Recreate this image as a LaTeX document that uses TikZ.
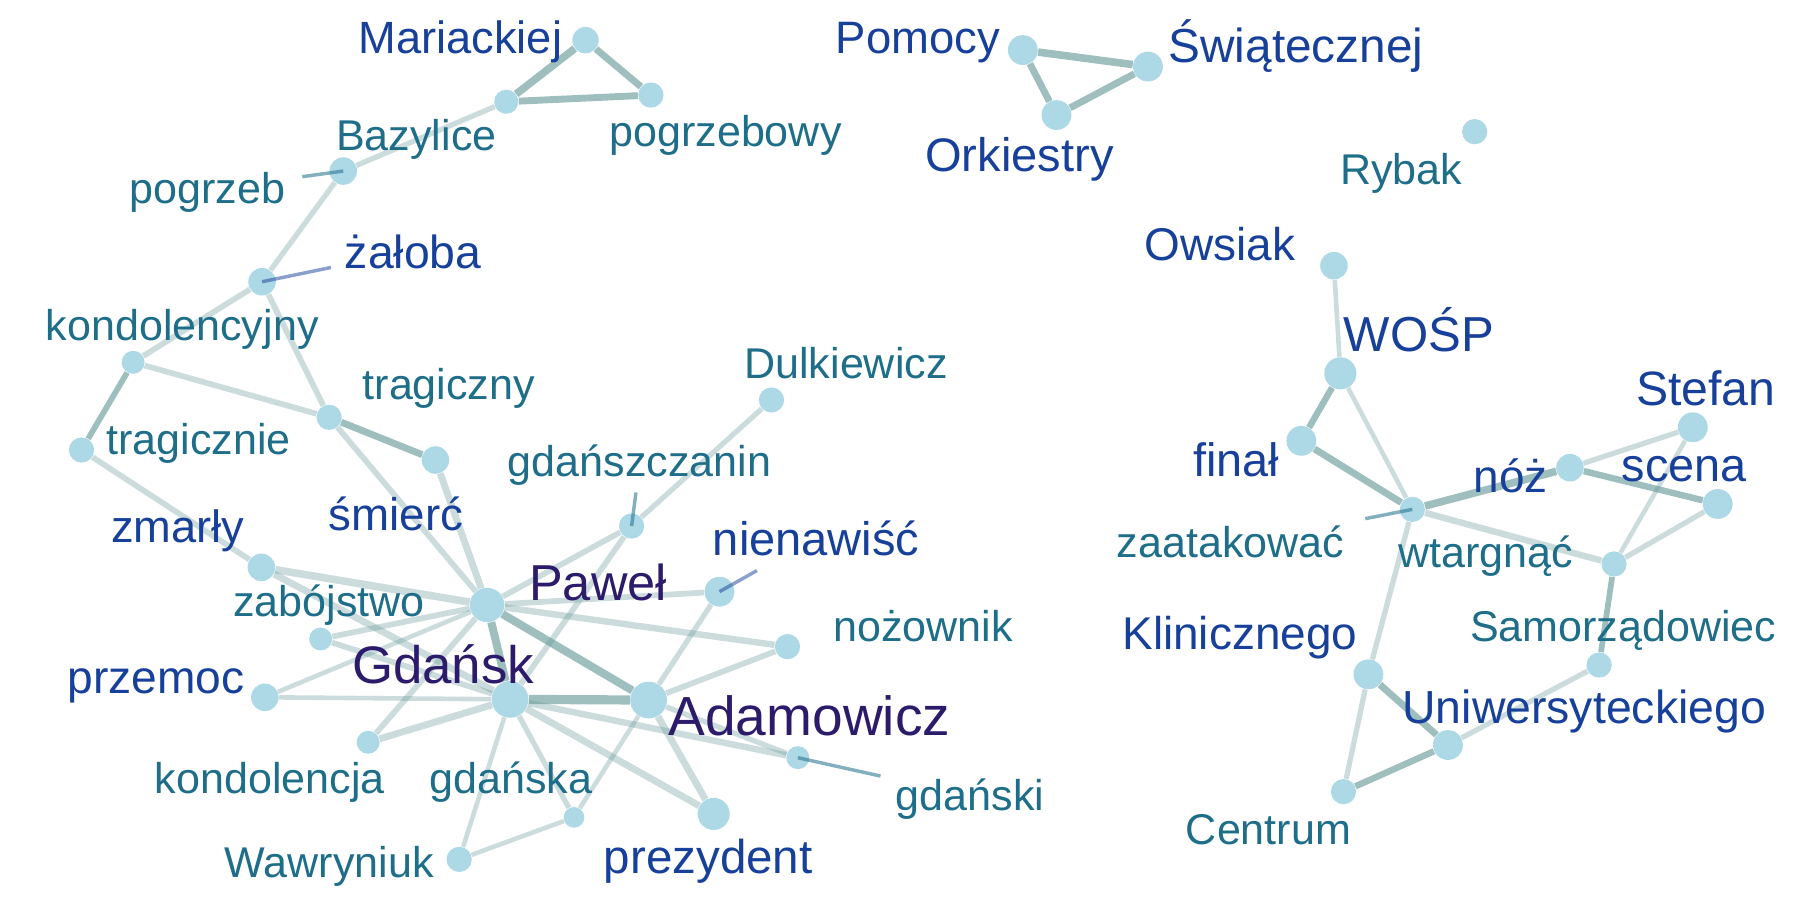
\documentclass[tikz,border=0pt]{standalone}
\usepackage{fontspec}
\setmainfont{Liberation Sans}
\definecolor{nodefill}{RGB}{173,216,230}
\definecolor{edgecol}{RGB}{100,150,150}
\definecolor{cpurple}{RGB}{44,26,107}
\definecolor{cblue}{RGB}{23,64,154}
\definecolor{cteal}{RGB}{30,110,138}
\pgfdeclarelayer{bg}
\pgfsetlayers{bg,main}
\tikzset{
  dot/.style={circle, fill=nodefill, draw=none, inner sep=0pt, minimum size=#1pt},
  lab/.style={anchor=base, inner sep=0pt, font=\fontsize{#1pt}{#1pt}\selectfont},
  tl/.style={lab=18.75, text=cteal},
  bl/.style={lab=#1, text=cblue},
  pl/.style={lab=#1, text=cpurple},
  lite/.style={draw=edgecol, draw opacity=0.33, line width=#1pt},
  dark/.style={draw=edgecol, draw opacity=0.62, line width=#1pt},
  ptrteal/.style={draw=cteal, draw opacity=0.55, line width=1.5pt},
  ptrblue/.style={draw=cblue, draw opacity=0.5, line width=1.5pt},
}
\begin{document}
\begin{tikzpicture}[x=0.5pt, y=-0.5pt]
\useasboundingbox (0,0) rectangle (1568,784);
% ---- vertices ----
\node[dot=11.5] (mar) at (510,35) {};
\node[dot=10.5] (baz) at (441,88.6) {};
\node[dot=11] (pgb) at (567,82.8) {};
\node[dot=12] (pog) at (299,149) {};
\node[dot=12] (zal) at (228.3,245.4) {};
\node[dot=10] (kcy) at (116,315.6) {};
\node[dot=11] (tny) at (286.7,363.5) {};
\node[dot=11] (tne) at (71,392) {};
\node[dot=12] (smi) at (379.3,400.7) {};
\node[dot=12] (zma) at (227.7,494.2) {};
\node[dot=15] (paw) at (424.3,527) {};
\node[dot=10] (zab) at (279.3,556.6) {};
\node[dot=12] (prz) at (230.7,607.4) {};
\node[dot=16] (gda) at (444.3,609.2) {};
\node[dot=10] (kja) at (320.7,646.6) {};
\node[dot=9] (gka) at (500,712) {};
\node[dot=11] (waw) at (400,748.6) {};
\node[dot=11] (gsz) at (550.2,458.2) {};
\node[dot=11] (dul) at (672,348.4) {};
\node[dot=13] (nie) at (626.7,515.4) {};
\node[dot=11] (noz) at (686,563.3) {};
\node[dot=16] (ada) at (565,609.8) {};
\node[dot=10] (gki) at (695,660) {};
\node[dot=14] (pre) at (621.7,709) {};
\node[dot=13] (pom) at (891,43.6) {};
\node[dot=13] (swi) at (1000,58) {};
\node[dot=13] (ork) at (920.3,100.2) {};
\node[dot=11] (ryb) at (1284.6,114.7) {};
\node[dot=12] (ows) at (1162,231.4) {};
\node[dot=14] (wos) at (1167.6,325.2) {};
\node[dot=13] (fin) at (1133.6,384) {};
\node[dot=11] (zaa) at (1230.3,443.7) {};
\node[dot=12] (nzz) at (1367.6,407.4) {};
\node[dot=13] (ste) at (1474.6,372.2) {};
\node[dot=13] (sce) at (1496.3,439) {};
\node[dot=11] (wta) at (1406,491.3) {};
\node[dot=11] (sam) at (1393,579.3) {};
\node[dot=13] (uni) at (1261.3,649) {};
\node[dot=13] (kli) at (1192,587.4) {};
\node[dot=11] (cen) at (1170.3,689.6) {};
% ---- edges ----
\begin{pgfonlayer}{bg}
\draw[dark=3.3] (mar) -- (baz);
\draw[dark=3] (mar) -- (pgb);
\draw[dark=3] (baz) -- (pgb);
\draw[lite=2.3] (baz) -- (pog);
\draw[lite=2.3] (pog) -- (zal);
\draw[lite=2.5] (zal) -- (kcy);
\draw[lite=2.5] (zal) -- (tny);
\draw[dark=2.5] (kcy) -- (tne);
\draw[lite=2.5] (kcy) -- (tny);
\draw[dark=3] (tny) -- (smi);
\draw[lite=2.5] (tny) -- (paw);
\draw[lite=3] (smi) -- (paw);
\draw[lite=2.5] (tne) -- (zma);
\draw[lite=3.3] (zma) -- (paw);
\draw[lite=3] (zma) -- (gda);
\draw[lite=2.5] (zab) -- (paw);
\draw[lite=2.5] (zab) -- (gda);
\draw[lite=2] (prz) -- (paw);
\draw[lite=2] (prz) -- (gda);
\draw[lite=2.5] (kja) -- (paw);
\draw[lite=3] (kja) -- (gda);
\draw[dark=3.5] (paw) -- (gda);
\draw[dark=3.5] (paw) -- (ada);
\draw[dark=4] (gda) -- (ada);
\draw[lite=2.5] (paw) -- (gsz);
\draw[lite=2.5] (gda) -- (gsz);
\draw[lite=2.3] (gsz) -- (dul);
\draw[lite=2.5] (paw) -- (nie);
\draw[lite=2.8] (paw) -- (noz);
\draw[lite=2.3] (ada) -- (nie);
\draw[lite=2.5] (ada) -- (noz);
\draw[lite=2.8] (gda) -- (gki);
\draw[lite=2.3] (ada) -- (gki);
\draw[lite=3] (gda) -- (pre);
\draw[lite=3] (ada) -- (pre);
\draw[lite=2.3] (gda) -- (gka);
\draw[lite=2] (gda) -- (waw);
\draw[lite=2] (gka) -- (waw);
\draw[lite=2] (gka) -- (ada);
\draw[dark=3.3] (pom) -- (swi);
\draw[dark=3] (pom) -- (ork);
\draw[dark=3] (ork) -- (swi);
\draw[lite=2] (ows) -- (wos);
\draw[dark=2.8] (wos) -- (fin);
\draw[lite=2] (wos) -- (zaa);
\draw[dark=3] (fin) -- (zaa);
\draw[dark=3.3] (zaa) -- (nzz);
\draw[lite=2.8] (zaa) -- (wta);
\draw[lite=2.3] (zaa) -- (kli);
\draw[lite=2.3] (nzz) -- (ste);
\draw[dark=2.8] (nzz) -- (sce);
\draw[lite=2] (ste) -- (wta);
\draw[lite=2.3] (sce) -- (wta);
\draw[dark=2.5] (wta) -- (sam);
\draw[lite=2.3] (sam) -- (uni);
\draw[dark=3] (kli) -- (uni);
\draw[lite=2.3] (kli) -- (cen);
\draw[dark=2.8] (uni) -- (cen);
\end{pgfonlayer}
% ---- label pointers ----
\coordinate (p-pog) at (263.3,153.9);
\coordinate (p-zal) at (288.3,233);
\coordinate (p-gsz) at (554,429);
\coordinate (p-nie) at (659.4,497);
\coordinate (p-gki) at (767,676);
\coordinate (p-zaa) at (1189.3,451.8);
\draw[ptrteal] (p-pog) -- (pog.center);
\draw[ptrblue] (p-zal) -- (zal.center);
\draw[ptrteal] (p-gsz) -- (gsz.center);
\draw[ptrblue] (p-nie) -- (nie.center);
\draw[ptrteal] (p-gki) -- (gki.center);
\draw[ptrteal] (p-zaa) -- (zaa.center);
% ---- labels ----
\node[bl=19.7] (l-mar) at (401,46.5) {Mariackiej};
\node[tl] (l-baz) at (362.7,130.7) {Bazylice};
\node[tl] (l-pgb) at (632,127.8) {pogrzebowy};
\node[tl] (l-pog) at (180.5,177) {pogrzeb};
\node[bl=20.2] (l-zal) at (360,233.7) {żałoba};
\node[tl] (l-kcy) at (158.7,296.7) {kondolencyjny};
\node[tl] (l-tny) at (391,348.4) {tragiczny};
\node[tl] (l-tne) at (173,396) {tragicznie};
\node[bl=19.9] (l-smi) at (345,461.7) {śmierć};
\node[bl=19.7] (l-zma) at (155,472.7) {zmarły};
\node[tl] (l-zab) at (286.7,537.2) {zabójstwo};
\node[bl=20.1] (l-prz) at (136,604) {przemoc};
\node[pl=23] (l-gda) at (386,595.3) {Gdańsk};
\node[tl] (l-kja) at (235,691) {kondolencja};
\node[tl] (l-gka) at (445,691) {gdańska};
\node[tl] (l-waw) at (286.7,764.5) {Wawryniuk};
\node[pl=22] (l-paw) at (521,523) {Paweł};
\node[tl] (l-gsz) at (557,415.2) {gdańszczanin};
\node[tl] (l-dul) at (737,329.6) {Dulkiewicz};
\node[bl=20.5] (l-nie) at (711,483.5) {nienawiść};
\node[tl] (l-noz) at (804,559) {nożownik};
\node[pl=24] (l-ada) at (705,641) {Adamowicz};
\node[tl] (l-gki) at (845,706) {gdański};
\node[bl=20.7] (l-pre) at (617,760.7) {prezydent};
\node[bl=19.8] (l-pom) at (799.5,47) {Pomocy};
\node[bl=20.5] (l-ork) at (888,149.5) {Orkiestry};
\node[bl=20.8] (l-swi) at (1129,54.3) {Świątecznej};
\node[tl] (l-ryb) at (1220.5,161) {Rybak};
\node[bl=20] (l-ows) at (1062.5,226.5) {Owsiak};
\node[bl=21.4] (l-wos) at (1236,306) {WOŚP};
\node[bl=21] (l-ste) at (1486,352.8) {Stefan};
\node[bl=20.4] (l-fin) at (1077,415) {finał};
\node[bl=20] (l-nzz) at (1316,429) {nóż};
\node[bl=20.4] (l-sce) at (1467,419.6) {scena};
\node[tl] (l-zaa) at (1072,485.5) {zaatakować};
\node[tl] (l-wta) at (1294,494) {wtargnąć};
\node[bl=20] (l-kli) at (1080,566) {Klinicznego};
\node[tl] (l-sam) at (1414,559) {Samorządowiec};
\node[bl=20.2] (l-uni) at (1380,630) {Uniwersyteckiego};
\node[tl] (l-cen) at (1105,736) {Centrum};
\end{tikzpicture}
\end{document}
